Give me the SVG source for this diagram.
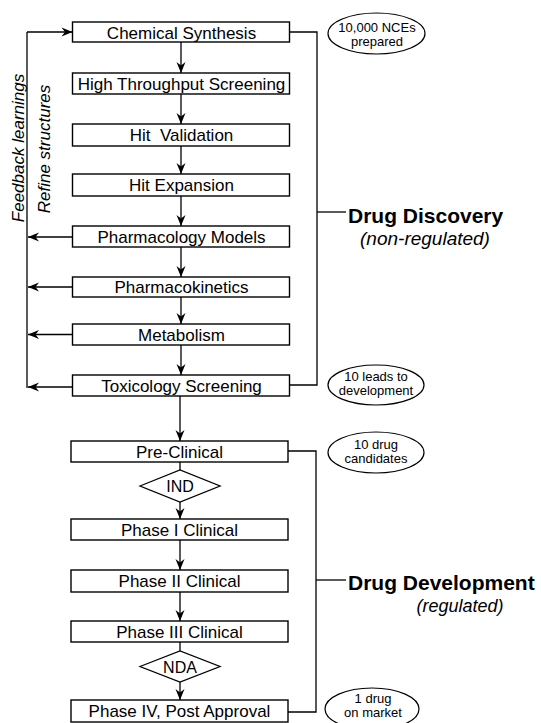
<svg xmlns="http://www.w3.org/2000/svg" width="541" height="723" viewBox="0 0 541 723">
<style>
.box{fill:#fff;stroke:#000;stroke-width:1.4}
.dia{fill:#fff;stroke:#000;stroke-width:1.3}
.ell{fill:#fff;stroke:#000;stroke-width:1.2}
.ln{fill:none;stroke:#000;stroke-width:1.3}
.t{font-family:"Liberation Sans",Arial,sans-serif;font-size:17px;fill:#000;text-anchor:middle;white-space:pre}
.d{font-family:"Liberation Sans",Arial,sans-serif;font-size:16px;fill:#000;text-anchor:middle}
.e{font-family:"Liberation Sans",Arial,sans-serif;font-size:13px;fill:#000;text-anchor:middle}
.v{font-family:"Liberation Sans",Arial,sans-serif;font-size:17px;font-style:italic;fill:#000;text-anchor:middle}
.h{font-family:"Liberation Sans",Arial,sans-serif;font-size:21px;font-weight:bold;fill:#000}
.s{font-family:"Liberation Sans",Arial,sans-serif;font-style:italic;fill:#000;text-anchor:middle}
</style>
<defs>
<marker id="ah" viewBox="-12 -6 13 12" refX="0" refY="0" markerWidth="13" markerHeight="12" markerUnits="userSpaceOnUse" orient="auto">
<path d="M0,0 L-11,-4.5 L-7.5,0 L-11,4.5 Z" fill="#000"/>
</marker>
</defs>
<rect width="541" height="723" fill="#fff"/>

<g id="connectors">
<line class="ln" x1="181" y1="42" x2="181" y2="73" marker-end="url(#ah)"/>
<line class="ln" x1="181" y1="94" x2="181" y2="124" marker-end="url(#ah)"/>
<line class="ln" x1="181" y1="146" x2="181" y2="174" marker-end="url(#ah)"/>
<line class="ln" x1="181" y1="196" x2="181" y2="226" marker-end="url(#ah)"/>
<line class="ln" x1="181" y1="247" x2="181" y2="277" marker-end="url(#ah)"/>
<line class="ln" x1="181" y1="297" x2="181" y2="324" marker-end="url(#ah)"/>
<line class="ln" x1="181" y1="345" x2="181" y2="375" marker-end="url(#ah)"/>
<line class="ln" x1="180" y1="396" x2="180" y2="441" marker-end="url(#ah)"/>
<line class="ln" x1="180" y1="462" x2="180" y2="470"/>
<line class="ln" x1="180" y1="502" x2="180" y2="519" marker-end="url(#ah)"/>
<line class="ln" x1="180" y1="540" x2="180" y2="570" marker-end="url(#ah)"/>
<line class="ln" x1="180" y1="592" x2="180" y2="621" marker-end="url(#ah)"/>
<line class="ln" x1="180" y1="642" x2="180" y2="651"/>
<line class="ln" x1="180" y1="682" x2="180" y2="700" marker-end="url(#ah)"/>
<!-- feedback loop -->
<line class="ln" x1="27" y1="388" x2="27" y2="32"/>
<line class="ln" x1="27" y1="32" x2="72.5" y2="32" marker-end="url(#ah)"/>
<line class="ln" x1="72.5" y1="237" x2="28" y2="237" marker-end="url(#ah)"/>
<line class="ln" x1="72.5" y1="287" x2="28" y2="287" marker-end="url(#ah)"/>
<line class="ln" x1="72.5" y1="334.5" x2="28" y2="334.5" marker-end="url(#ah)"/>
<line class="ln" x1="72.5" y1="387" x2="28" y2="387" marker-end="url(#ah)"/>
<!-- brackets -->
<path class="ln" d="M289.5,32 H317 V385 H289.5"/>
<path class="ln" d="M317,212 H346"/>
<path class="ln" d="M288,451 H316 V712 H288"/>
<path class="ln" d="M316,580 H346"/>
</g>

<g id="feedback-label"><text class="v" transform="translate(24,148) rotate(-90)">Feedback learnings</text></g>
<g id="refine-label"><text class="v" transform="translate(50,149) rotate(-90)">Refine structures</text></g>

<g id="chemical-synthesis"><rect class="box" x="72.5" y="22" width="217" height="20"/><text class="t" x="181.5" y="38.5">Chemical Synthesis</text></g>
<g id="hts"><rect class="box" x="72.5" y="73" width="217" height="21"/><text class="t" x="181.5" y="90">High Throughput Screening</text></g>
<g id="hit-validation"><rect class="box" x="72.5" y="124" width="217" height="22"/><text class="t" x="181.5" y="141">Hit  Validation</text></g>
<g id="hit-expansion"><rect class="box" x="72.5" y="174" width="217" height="22"/><text class="t" x="181.5" y="191">Hit Expansion</text></g>
<g id="pharmacology-models"><rect class="box" x="72.5" y="226" width="217" height="21"/><text class="t" x="181.5" y="242.5">Pharmacology Models</text></g>
<g id="pharmacokinetics"><rect class="box" x="72.5" y="277" width="217" height="20"/><text class="t" x="181.5" y="293">Pharmacokinetics</text></g>
<g id="metabolism"><rect class="box" x="72.5" y="324" width="217" height="21"/><text class="t" x="181.5" y="340.5">Metabolism</text></g>
<g id="toxicology-screening"><rect class="box" x="72.5" y="375" width="217" height="21"/><text class="t" x="181.5" y="391.5">Toxicology Screening</text></g>

<g id="pre-clinical"><rect class="box" x="71" y="441" width="217" height="21"/><text class="t" x="179.5" y="457.5">Pre-Clinical</text></g>
<g id="ind"><polygon class="dia" points="140,486 180,470 220,486 180,502"/><text class="d" x="180" y="492">IND</text></g>
<g id="phase-1"><rect class="box" x="71" y="519" width="217" height="21"/><text class="t" x="179.5" y="535.5">Phase I Clinical</text></g>
<g id="phase-2"><rect class="box" x="71" y="570" width="217" height="22"/><text class="t" x="179.5" y="587">Phase II Clinical</text></g>
<g id="phase-3"><rect class="box" x="71" y="621" width="217" height="21"/><text class="t" x="179.5" y="637.5">Phase III Clinical</text></g>
<g id="nda"><polygon class="dia" points="140,666.5 180,651 220,666.5 180,682"/><text class="d" x="180" y="672.5">NDA</text></g>
<g id="phase-4"><rect class="box" x="71" y="700" width="217" height="22"/><text class="t" x="179.5" y="717">Phase IV, Post Approval</text></g>

<g id="drug-discovery"><text class="h" x="348" y="223">Drug Discovery</text><text class="s" x="425" y="245" font-size="19">(non-regulated)</text></g>
<g id="drug-development"><text class="h" x="348" y="590">Drug Development</text><text class="s" x="460" y="612" font-size="18">(regulated)</text></g>

<g id="ncEs"><ellipse class="ell" cx="376.5" cy="33.5" rx="48.5" ry="20.5"/><text class="e" x="377" y="32">10,000 NCEs</text><text class="e" x="377" y="46">prepared</text></g>
<g id="leads"><ellipse class="ell" cx="376" cy="385" rx="48" ry="20"/><text class="e" x="376" y="381">10 leads to</text><text class="e" x="376" y="395">development</text></g>
<g id="candidates"><ellipse class="ell" cx="376" cy="452.5" rx="48" ry="20.5"/><text class="e" x="376" y="449">10 drug</text><text class="e" x="376" y="463">candidates</text></g>
<g id="market"><ellipse class="ell" cx="372" cy="709" rx="47" ry="21"/><text class="e" x="373" y="703">1 drug</text><text class="e" x="373" y="717">on market</text></g>
</svg>
